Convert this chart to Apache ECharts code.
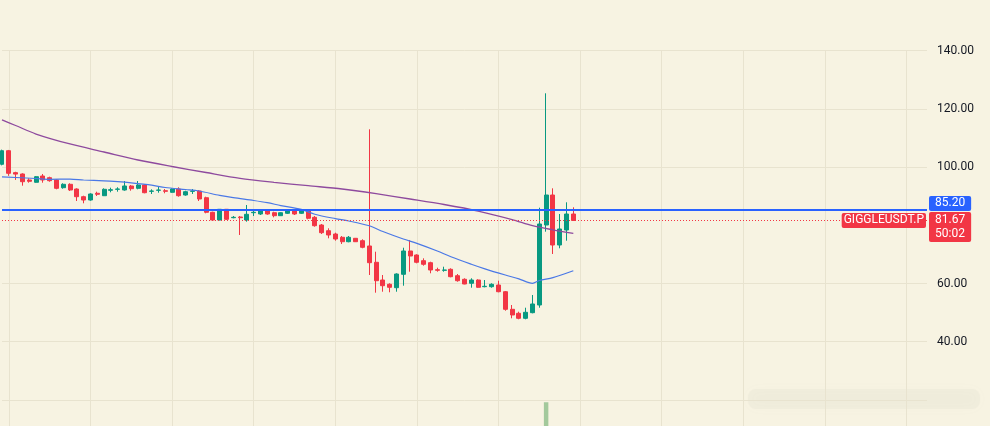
<!DOCTYPE html>
<html><head><meta charset="utf-8">
<script src="https://cdn.jsdelivr.net/npm/echarts@6/dist/echarts.min.js"></script>
<style>html,body{margin:0;padding:0;background:#f7f3e2}#c{width:990px;height:426px}</style>
</head><body><div id="c"></div><script>
// ---- data ----
const slotCount = 137; // time slots across the pane (85 candles + empty future area)
const categories = [];
for (let i = 0; i < slotCount; i++) categories.push(String(i));

const open  = [100.96,105.64,98.1,97.63,95.57,94.78,96.94,96.36,95.57,92.92,94.09,92.47,89.83,88.69,91.0,90.17,92.03,92.37,92.13,93.51,92.71,93.85,91.68,92.03,91.89,91.34,92.47,90.41,91.68,91.79,89.48,84.47,81.82,85.5,82.61,82.85,81.82,84.33,83.88,85.26,84.33,83.3,84.12,85.02,84.12,85.02,82.75,80.1,78.14,77.01,75.88,74.36,75.53,74.71,72.89,67.29,61.2,59.73,58.56,63.16,71.17,69.79,67.84,67.15,64.74,64.54,64.88,62.68,61.44,60.07,61.2,58.9,58.9,59.48,57.18,51.13,49.76,48.04,49.97,52.61,80.1,90.41,73.23,78.38,83.88];
const close = [105.64,97.87,97.6,94.98,95.12,96.7,95.57,95.33,92.71,94.09,92.13,89.83,88.69,90.76,90.65,92.37,92.23,92.47,93.51,92.58,93.85,91.2,91.79,92.13,91.68,92.47,90.17,91.55,91.79,89.04,84.47,81.82,85.5,82.06,82.75,82.61,83.78,84.47,85.26,83.88,83.3,84.33,85.02,83.88,85.02,82.41,79.86,77.46,76.67,75.29,74.36,75.88,74.36,72.44,67.15,60.96,59.24,58.69,63.26,71.17,69.45,67.29,66.6,64.64,64.54,64.64,62.34,60.96,59.83,61.2,58.69,59.04,59.73,57.18,51.13,49.18,48.04,50.1,52.96,80.45,90.41,73.23,78.73,83.88,81.67];
const low   = [100.6,97.0,95.6,93.61,94.64,94.64,94.64,94.98,92.37,92.58,91.79,88.35,87.56,88.45,90.07,90.07,91.34,91.55,91.89,91.89,92.37,91.0,90.76,91.2,91.0,91.2,89.83,90.17,90.76,88.35,84.12,81.82,81.72,81.82,82.41,76.67,81.24,83.2,83.54,83.64,82.75,83.2,83.88,83.54,83.88,82.06,79.52,77.01,75.53,74.71,73.57,74.16,74.26,72.1,62.92,56.84,57.18,56.98,57.18,59.24,64.05,66.94,66.12,63.51,64.05,64.05,62.13,60.62,59.73,58.56,58.56,58.69,58.56,56.98,50.65,48.04,47.7,47.7,49.76,51.68,77.8,70.14,72.1,74.71,81.67];
const high  = [106.0,105.9,98.4,97.87,96.15,96.94,97.63,96.7,95.81,94.43,94.43,92.71,90.17,91.0,91.55,92.71,92.92,93.06,95.22,93.85,95.22,94.09,92.37,93.26,92.47,92.71,93.06,91.89,92.47,92.13,89.83,84.67,85.6,85.6,83.2,83.2,86.98,85.26,85.5,85.5,84.67,84.47,85.26,85.5,85.26,85.5,83.2,80.45,78.97,77.46,76.32,76.32,75.64,75.19,112.99,70.93,62.92,60.07,63.5,72.3,74.95,70.03,68.66,67.49,65.43,65.77,65.22,63.26,61.79,61.79,61.44,61.2,60.07,60.96,57.42,52.61,50.31,51.68,56.05,86.05,125.36,92.71,83.88,87.9,86.19];

// moving averages, read at sample candles: [candle index, value]
const maFast = [[0,96.67],[5,96.08],[7,95.81],[10,95.88],[12,95.57],[15,95.29],[17,94.98],[19,94.57],[22,93.78],[24,92.99],[27,92.3],[29,91.79],[32,90.27],[34,89.48],[37,88.52],[39,87.77],[41,86.77],[44,85.46],[46,83.81],[49,82.3],[51,81.48],[54,79.83],[56,77.87],[59,75.29],[61,73.81],[64,71.17],[66,69.18],[69,66.63],[71,65.05],[74,62.92],[76,61.58],[78,60.07],[79,61.03],[81,62.03],[84,64.4]];
const maSlow = [[0,116.25],[2,114.3],[5,111.37],[10,107.94],[15,105.19],[20,102.44],[25,100.21],[30,98.14],[35,96.15],[40,94.78],[45,93.61],[50,92.47],[55,90.86],[60,89.04],[65,87.15],[70,84.91],[75,81.99],[78,79.86],[81,78.45],[84,77.25]];

// volume pane: only one bar is visible in the picture
const volume = [[80, 91]];

const yTicks = [20, 40, 60, 80, 100, 120, 140];
const hiddenTickLabels = [20, 80];
const alertPrice = 85.20;
const lastPrice = 81.67;
const symbolName = 'GIGGLEUSDT.P';
const countdown = '50:02';

// ---- chart ----
const UP = '#089981', DOWN = '#f23645', GRID = '#e8e3cf';
const candles = open.map((o, i) => [o, close[i], low[i], high[i]]);
const font = 'Roboto, "Liberation Sans", sans-serif';
const xSplit = { show: true, interval: (i) => i % 12 === 1, lineStyle: { color: GRID, width: 1 } };
// the 80 level has no visible grid line in the picture
const ySplitColors = yTicks.map(t => t === 80 ? 'rgba(0,0,0,0)' : GRID);

const chart = echarts.init(document.getElementById('c'), null, { renderer: 'canvas' });
chart.setOption({
  backgroundColor: '#f7f3e2',
  animation: false,
  textStyle: { fontFamily: font },
  grid: [
    { left: 2, right: 63, top: 50.7, height: 349.2 },
    { left: 2, right: 63, top: 399.9, bottom: -60 }
  ],
  xAxis: [
    { type: 'category', gridIndex: 0, data: categories, boundaryGap: false,
      axisLine: { show: false }, axisTick: { show: false }, axisLabel: { show: false }, splitLine: xSplit },
    { type: 'category', gridIndex: 1, data: categories, boundaryGap: false,
      axisLine: { show: false }, axisTick: { show: false }, axisLabel: { show: false }, splitLine: xSplit }
  ],
  yAxis: [
    { type: 'value', gridIndex: 0, position: 'right', min: yTicks[0], max: yTicks[yTicks.length - 1], interval: 20,
      axisLine: { show: false }, axisTick: { show: false },
      splitLine: { show: true, lineStyle: { color: ySplitColors, width: 1 } },
      axisLabel: { margin: 10, color: '#131722', fontSize: 12, fontFamily: font,
        formatter: (v) => hiddenTickLabels.includes(v) ? '' : v.toFixed(2) } },
    { type: 'value', gridIndex: 1, min: 0, max: 100, show: false, splitLine: { show: false } }
  ],
  graphic: [{
    type: 'rect', silent: true, z: 0,
    shape: { x: 748, y: 389, width: 232, height: 20, r: 8 },
    style: { fill: 'rgba(190,190,180,0.09)', shadowBlur: 12, shadowColor: 'rgba(180,180,170,0.25)' }
  }],
  series: [
    { type: 'candlestick', xAxisIndex: 0, yAxisIndex: 0, data: candles, barWidth: '66%', clip: false,
      itemStyle: { color: UP, color0: DOWN, borderColor: UP, borderColor0: DOWN, borderWidth: 1 },
      markLine: {
        symbol: ['none', 'none'], silent: true, animation: false, precision: 2,
        data: [
          { yAxis: alertPrice, lineStyle: { color: '#2962ff', width: 2, type: 'solid' },
            label: { show: true, position: 'end', distance: 2, formatter: alertPrice.toFixed(2),
              backgroundColor: '#2962ff', color: '#ffffff', fontSize: 12, fontFamily: font,
              padding: [1, 6], lineHeight: 13, borderRadius: 2, offset: [0, -6.7] } },
          { yAxis: lastPrice, lineStyle: { color: DOWN, width: 1, type: [1, 2] },
            label: { show: true, position: 'insideEnd', distance: 1, formatter: symbolName,
              backgroundColor: DOWN, color: '#ffffff', fontSize: 12, fontFamily: font,
              padding: [1, 2], lineHeight: 13, borderRadius: 2 } }
        ]
      }
    },
    { type: 'line', xAxisIndex: 0, yAxisIndex: 0, data: maSlow, showSymbol: false, smooth: 0.3,
      lineStyle: { color: '#8e4a9e', width: 1.3 }, z: 3 },
    { type: 'line', xAxisIndex: 0, yAxisIndex: 0, data: maFast, showSymbol: false, smooth: 0.3,
      lineStyle: { color: '#4a78e6', width: 1.2 }, z: 3,
      markLine: {
        symbol: ['none', 'none'], silent: true, animation: false, precision: 2,
        data: [
          { yAxis: lastPrice, lineStyle: { color: 'rgba(0,0,0,0)', width: 1 },
            label: { show: true, position: 'end', distance: 2, formatter: lastPrice.toFixed(2) + '\n' + countdown,
              backgroundColor: DOWN, color: '#ffffff', fontSize: 12, fontFamily: font,
              padding: [1, 6], lineHeight: 14, borderRadius: 2, offset: [0, 6.6] } }
        ]
      }
    },
    { type: 'bar', xAxisIndex: 1, yAxisIndex: 1, data: volume, barWidth: '66%',
      itemStyle: { color: '#a3c99c' } }
  ]
});
</script></body></html>
